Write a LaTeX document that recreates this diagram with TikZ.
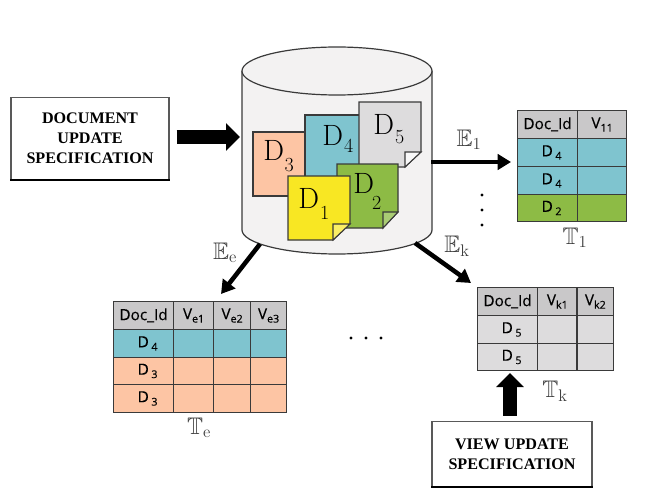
\documentclass[tikz,border=0pt]{standalone}
\usepackage{amssymb}
\usepackage{fontspec}
\usetikzlibrary{arrows.meta}
\newfontfamily\cellfont{Open Sans}[FakeBold=0.25]
\newfontfamily\boxfont{Liberation Serif}
\definecolor{headgray}{HTML}{C9C8C9}
\definecolor{paleteal}{HTML}{7FC4CF}
\definecolor{leafgreen}{HTML}{8DBB45}
\definecolor{peach}{HTML}{FDC5A4}
\definecolor{sunny}{HTML}{F8E723}
\definecolor{sheetgray}{HTML}{DDDCDD}
\definecolor{drumgray}{HTML}{F3F2F2}
\definecolor{edgegray}{HTML}{3A3A3A}
% big D, then its digit at a given kern and drop
\newcommand{\sheetname}[3]{D\kern#2pt\raisebox{-#3pt}{\fontsize{15}{15}\selectfont#1}}
\newcommand{\cellname}[2]{#1\raisebox{-2.5pt}{\fontsize{8}{8}\selectfont#2}}
\newcommand{\rowname}[1]{\hspace*{6pt}\cellname{D\,}{#1}}
\tikzset{
  cell/.style={draw=edgegray,line width=0.9pt,anchor=north west,inner sep=0pt,minimum height=20.8pt,font=\cellfont\fontsize{11.5}{12}\selectfont},
  sheet/.style={draw=edgegray,line width=0.8pt},
  sheetlabel/.style={anchor=base west,inner sep=0pt,font=\fontsize{22}{22}\selectfont},
  specbox/.style={draw=black!65,line width=0.8pt,fill=white,align=center,inner sep=0pt,font=\boxfont\bfseries\fontsize{12.1}{15}\selectfont},
  thinarrow/.style={line width=3.4pt,-{Triangle[length=10pt,width=11.5pt]}},
  blockarrow/.style={line width=10.5pt,-{Triangle[length=10.5pt,width=20pt]}},
  outer/.style={inner sep=0pt,text=black!75,font=\fontsize{18}{18}\selectfont}
}
\begin{document}
\begin{tikzpicture}[x=0.75pt,y=0.75pt,yscale=-1]
\useasboundingbox (0,0) rectangle (661,492);

% drum
\draw[fill=drumgray,draw=edgegray,line width=0.9pt] (242,71) -- (242,230) .. controls (242,243) and (285,254) .. (337,254) .. controls (389,254) and (432,243) .. (432,230) -- (432,71);
\draw[fill=drumgray,draw=edgegray,line width=0.9pt] (337,71) ellipse [x radius=95,y radius=24];
\coordinate (drumW) at (240,137);
\coordinate (drumE) at (431,162);
\coordinate (drumSW) at (260,244);
\coordinate (drumSE) at (415,243);

% sheets
\draw[sheet,fill=peach] (253,132) rectangle (315,196);
\draw[sheet,fill=paleteal] (305,115) rectangle (367,180);
\draw[sheet,fill=sheetgray] (359,102) -- (421,102) -- (421,152) -- (405,167) -- (359,167) -- cycle;
\draw[sheet,fill=white!80!sheetgray] (421,152) -- (405,152) -- (405,167) -- cycle;
\draw[sheet,fill=leafgreen] (337,164) -- (398,164) -- (398,212) -- (383,228) -- (337,228) -- cycle;
\draw[sheet,fill=white!25!leafgreen] (398,212) -- (383,212) -- (383,228) -- cycle;
\draw[sheet,fill=sunny] (288,176) -- (350,176) -- (350,224) -- (333,240) -- (288,240) -- cycle;
\draw[sheet,fill=white!30!sunny] (350,224) -- (333,224) -- (333,240) -- cycle;
\node[sheetlabel] (dthree) at (263,161) {\sheetname{3}{0.5}{8.25}};
\node[sheetlabel] (dfour) at (322,146) {\sheetname{4}{0.8}{5.25}};
\node[sheetlabel] (dfive) at (373,135) {\sheetname{5}{0.8}{6}};
\node[sheetlabel] (dtwo) at (353,194) {\sheetname{2}{-1.5}{12}};
\node[sheetlabel] (done) at (298,208) {\sheetname{1}{0.8}{9}};

% table 1
\node[cell,fill=headgray,minimum width=45pt] (tonea) at (517,110) {Doc\_Id};
\node[cell,fill=headgray,minimum width=36.75pt] (toneb) at (577,110) {\cellname{V}{11}};
\foreach \y/\c/\d [count=\i] in {138/paleteal/4,166/paleteal/4,193.5/leafgreen/2} {
  \node[cell,fill=\c,minimum width=45pt] (tonerow\i) at (517,\y) {\rowname{\d}};
  \node[cell,fill=\c,minimum width=36.75pt] (tonev\i) at (577,\y) {};
}

% table e
\node[cell,fill=headgray,minimum width=45pt] (tea) at (113,301) {Doc\_Id};
\foreach \x/\w/\s [count=\j] in {173/30/1,213/27.75/2,250/27/3} {
  \node[cell,fill=headgray,minimum width=\w pt] (tehead\j) at (\x,301) {\cellname{V}{e\s}};
}
\foreach \y/\c/\d [count=\i] in {329/paleteal/4,356.5/peach/3,384/peach/3} {
  \node[cell,fill=\c,minimum width=45pt] (terow\i) at (113,\y) {\rowname{\d}};
  \node[cell,fill=\c,minimum width=30pt] (tea\i) at (173,\y) {};
  \node[cell,fill=\c,minimum width=27.75pt] (teb\i) at (213,\y) {};
  \node[cell,fill=\c,minimum width=27pt] (tec\i) at (250,\y) {};
}

% table k
\node[cell,fill=headgray,minimum width=45pt] (tka) at (477,287) {Doc\_Id};
\node[cell,fill=headgray,minimum width=29.6pt] (tkb) at (537,287) {\cellname{V}{k1}};
\node[cell,fill=headgray,minimum width=27.4pt] (tkc) at (576.5,287) {\cellname{V}{k2}};
\foreach \y [count=\i] in {315,342.5} {
  \node[cell,fill=sheetgray,minimum width=45pt] (tkrow\i) at (477,\y) {\rowname{5}};
  \node[cell,fill=sheetgray,minimum width=29.6pt] (tkv\i) at (537,\y) {};
  \node[cell,fill=sheetgray,minimum width=27.4pt] (tkw\i) at (576.5,\y) {};
}

% spec boxes
\node[specbox,minimum width=118.5pt,minimum height=61.5pt] (docspec) at (90,138.5) {DOCUMENT\\UPDATE\\SPECIFICATION};
\draw[line width=1.5pt] (docspec.south west) -- (docspec.south east);
\node[specbox,minimum width=120pt,minimum height=48.75pt] (viewspec) at (512,454) {VIEW UPDATE\\SPECIFICATION};
\draw[line width=1.5pt] (viewspec.south west) -- (viewspec.south east);

% arrows
\coordinate (toneIn) at (511,162);
\coordinate (teIn) at (221,294);
\coordinate (tkIn) at (471,283);
\coordinate (viewIn) at (510,373);
\draw[blockarrow,shorten <=5.25pt] (docspec.east |- drumW) -- (drumW);
\draw[thinarrow] (drumE) -- (toneIn);
\draw[thinarrow] (drumSW) -- (teIn);
\draw[thinarrow] (drumSE) -- (tkIn);
\draw[blockarrow,shorten <=3.75pt] (viewspec.north -| viewIn) -- (viewIn);

% labels
\node[outer] (eone) at (469,140) {$\mathbb{E}_{\mathrm{1}}$};
\node[outer] (ee) at (225,253) {$\mathbb{E}_{\mathrm{e}}$};
\node[outer] (ek) at (457,246) {$\mathbb{E}_{\mathrm{k}}$};
\node[outer] (tone) at (575,238) {$\mathbb{T}_{\mathrm{1}}$};
\node[outer] (te) at (199,428) {$\mathbb{T}_{\mathrm{e}}$};
\node[outer] (tk) at (555,391) {$\mathbb{T}_{\mathrm{k}}$};

% dots
\foreach \y in {195,210,225} \fill (482,\y) circle (1.6);
\foreach \x in {351,366,381} \fill (\x,338) circle (1.6);
\end{tikzpicture}
\end{document}
